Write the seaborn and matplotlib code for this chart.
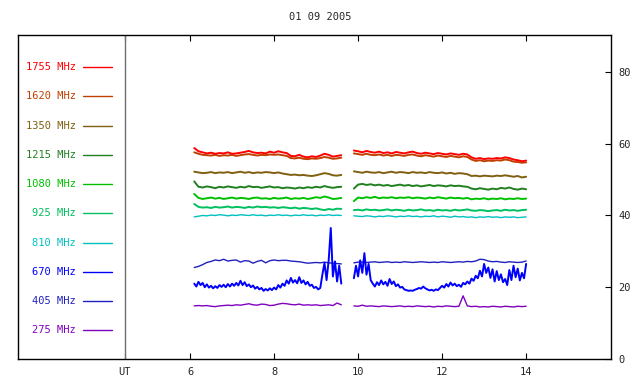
import numpy as np
import pandas as pd
import seaborn as sns
import matplotlib
matplotlib.use("Agg")
import matplotlib.pyplot as plt

title = "01 09 2005"
labels = ["1755 MHz", "1620 MHz", "1350 MHz", "1215 MHz", "1080 MHz",
          "925 MHz", "810 MHz", "670 MHz", "405 MHz", "275 MHz"]
colors = ["#ff0000", "#c04000", "#806010", "#208020", "#00c000",
          "#00c060", "#00c0c0", "#0000ff", "#2020c0", "#8000c0"]
xticks = [6, 8, 10, 12, 14]
yticks = [0, 20, 40, 60, 80]

# two observing segments (UT hours), 0.1 h samples; 670 MHz at 0.05 h
seg1 = (6.1, 9.6)
seg2 = (9.9, 14.0)

f1755_a = [58.8, 57.9, 57.6, 57.3, 57.5, 57.2, 57.4, 57.3, 57.6, 57.2, 57.3, 57.5, 57.7, 58.0, 57.6, 57.4, 57.5, 57.3,
           57.8, 57.5, 57.9, 57.6, 57.4, 56.6, 56.5, 56.9, 56.4, 56.2, 56.5, 56.3, 56.7, 57.2, 56.9, 56.4, 56.6, 56.8]
f1755_b = [58.1, 57.9, 57.6, 58.0, 57.7, 57.5, 57.8, 57.4, 57.6, 57.3, 57.7, 57.5, 57.3, 57.6, 57.8, 57.4, 57.2, 57.5,
           57.3, 57.1, 57.4, 57.2, 57.0, 57.3, 57.1, 56.9, 57.2, 57.0, 56.2, 55.8, 56.0, 55.7, 55.9, 55.8, 56.0, 55.9,
           56.2, 56.0, 55.6, 55.4, 55.1, 55.3]
f1620_a = [57.6, 57.2, 56.9, 56.8, 56.7, 56.9, 56.6, 56.8, 56.7, 56.9, 56.6, 56.8, 57.0, 57.1, 56.9, 56.7, 56.9, 56.8,
           57.0, 56.9, 57.0, 56.8, 56.6, 56.0, 55.9, 56.1, 55.8, 55.7, 55.9, 55.8, 56.0, 56.3, 56.1, 55.8, 55.9, 56.1]
f1620_b = [57.3, 57.1, 56.9, 57.2, 56.9, 56.8, 57.0, 56.7, 56.9, 56.6, 56.9, 56.8, 56.6, 56.9, 57.0, 56.7, 56.5, 56.8,
           56.6, 56.4, 56.7, 56.5, 56.3, 56.6, 56.4, 56.2, 56.5, 56.3, 55.6, 55.2, 55.4, 55.1, 55.3, 55.2, 55.4, 55.3,
           55.6, 55.4, 55.0, 54.9, 54.7, 54.8]
f1350_a = [52.2, 52.0, 51.8, 51.9, 52.1, 51.8, 52.0, 51.9, 52.1, 51.8, 52.0, 52.2, 51.9, 52.1, 51.8, 52.0, 51.9, 52.1,
           52.0, 51.8, 52.0, 51.7, 51.5, 51.3, 51.4, 51.2, 51.3, 51.1, 51.0, 51.2, 51.5, 51.8, 51.6, 51.2, 51.1, 51.3]
f1350_b = [52.3, 52.1, 51.9, 52.2, 52.0, 51.9, 52.1, 51.8, 52.0, 52.2, 51.9, 52.1, 52.0, 51.8, 52.1, 51.9, 52.0, 51.8,
           52.1, 51.9, 51.8, 52.0, 51.7, 51.9, 51.6, 51.8, 51.7, 51.5, 51.0, 51.1, 50.9, 51.1, 51.0, 50.9, 51.1, 51.0,
           51.2, 51.0, 50.8, 51.0, 50.6, 50.8]
f1215_a = [49.5, 48.0, 47.8, 48.1, 47.9, 47.6, 48.0, 47.8, 48.1, 47.9, 47.7, 48.0, 47.8, 48.2, 47.9, 48.0, 47.7, 47.9,
           48.1, 47.8, 47.9, 47.6, 47.8, 47.7, 47.5, 47.8, 47.6, 47.9, 47.7, 48.0, 47.8, 48.2, 47.9, 47.7, 47.9, 48.0]
f1215_b = [47.5, 48.6, 48.8, 48.5, 48.7, 48.4, 48.6, 48.3, 48.5, 48.2, 48.4, 48.6, 48.3, 48.5, 48.2, 48.4, 48.1, 48.3,
           48.5, 48.2, 48.4, 48.3, 48.1, 48.4, 48.2, 48.3, 48.1, 48.0, 47.5, 47.3, 47.6, 47.4, 47.2, 47.5, 47.3, 47.7,
           47.5, 47.8, 47.4, 47.2, 47.5, 47.3]
f1080_a = [46.0, 44.9, 44.6, 44.8, 45.0, 44.7, 44.9, 44.6, 44.8, 45.0, 44.7, 44.9, 44.8, 44.6, 44.9, 45.0, 44.7, 44.8,
           44.6, 44.9, 44.7, 44.8, 45.0, 44.6, 44.8, 44.7, 44.9, 44.6, 44.8, 45.1, 44.9, 45.3, 45.0, 44.6, 44.7, 44.9]
f1080_b = [44.0, 45.0, 44.8, 45.1, 44.9, 45.2, 44.8, 45.0, 44.9, 45.1, 44.8, 45.0, 44.9, 45.1, 44.8, 45.0, 44.9, 44.7,
           45.0, 44.8, 45.1, 44.9, 44.7, 45.0, 44.8, 44.9, 44.7, 44.9, 44.5, 44.7, 44.6, 44.8, 44.5, 44.7, 44.6, 44.8,
           44.5, 44.7, 44.6, 44.8, 44.6, 44.7]
f925_a = [43.2, 42.4, 42.2, 42.3, 42.1, 42.4, 42.2, 42.3, 42.5, 42.2, 42.4, 42.3, 42.1, 42.4, 42.2, 42.5, 42.3, 42.4,
          42.2, 42.3, 42.1, 42.3, 42.2, 42.0, 42.2, 41.9, 42.1, 42.0, 41.8, 42.0, 41.7, 41.5, 41.8, 41.6, 41.9, 41.8]
f925_b = [41.5, 41.6, 41.4, 41.7, 41.5, 41.6, 41.4, 41.5, 41.7, 41.4, 41.6, 41.5, 41.3, 41.6, 41.4, 41.5, 41.7, 41.4,
          41.5, 41.3, 41.6, 41.4, 41.5, 41.3, 41.6, 41.4, 41.5, 41.7, 41.4, 41.3, 41.5, 41.4, 41.2, 41.4, 41.5, 41.3,
          41.6, 41.4, 41.5, 41.3, 41.5, 41.6]
f810_a = [39.6, 39.8, 40.0, 39.9, 40.1, 40.0, 40.2, 40.1, 39.9, 40.1, 40.0, 40.2, 40.1, 40.0, 40.2, 40.0, 40.1, 39.9,
          40.1, 40.0, 40.2, 40.0, 40.1, 39.9, 40.1, 40.0, 40.2, 40.0, 40.1, 39.9, 40.1, 40.0, 40.2, 40.0, 40.1, 40.0]
f810_b = [39.9, 39.8, 39.7, 39.9, 39.8, 39.6, 39.8, 39.7, 39.9, 39.8, 39.6, 39.8, 39.7, 39.9, 39.7, 39.8, 39.6, 39.8,
          39.7, 39.9, 39.6, 39.8, 39.7, 39.5, 39.8, 39.6, 39.7, 39.5, 39.6, 39.4, 39.6, 39.5, 39.7, 39.5, 39.6, 39.4,
          39.6, 39.5, 39.6, 39.4, 39.5, 39.6]
f670_a = [21.0, 20.2, 21.5, 20.6, 21.2, 20.0, 20.8, 19.9, 20.4, 19.7, 20.3, 19.8, 20.6, 20.1, 20.7, 20.0, 20.9, 20.2,
          21.0, 20.4, 21.2, 20.5, 21.8, 20.6, 21.4, 20.3, 20.8, 20.0, 20.5, 19.6, 20.1, 19.4, 19.8, 19.0, 19.5, 19.1,
          19.7, 19.2, 19.9, 19.4, 20.6, 19.9, 21.0, 20.4, 21.9, 21.0, 22.6, 21.3, 22.0, 21.1, 22.8, 21.2, 21.9, 20.8,
          21.5, 20.4, 20.7, 19.8, 20.1, 19.4, 19.8, 23.5, 26.8, 22.0, 27.5, 36.5, 23.0, 27.2, 21.6, 26.0, 21.0]
f670_b = [22.5, 26.0, 23.0, 27.5, 24.0, 29.5, 23.5, 26.5, 22.0, 21.0, 20.2, 21.4, 20.6, 21.9, 20.8, 21.5, 20.4, 22.3,
          20.9, 21.6, 20.3, 20.8, 19.9, 20.1, 19.4, 19.2, 19.0, 19.1, 19.0, 19.3, 19.5, 19.8, 19.6, 20.2, 19.7, 19.4,
          19.1, 19.3, 19.0, 19.4, 19.2, 19.8, 20.4, 19.9, 20.9, 20.2, 21.3, 20.5, 21.0, 20.3, 20.7, 20.1, 21.2, 20.8,
          21.6, 21.0, 22.4, 21.8, 23.2, 22.5, 24.6, 23.0, 26.5, 24.0, 25.5, 22.6, 25.0, 21.6, 24.5, 22.0, 23.6, 21.4,
          22.3, 20.6, 24.8, 22.0, 26.0, 22.8, 25.2, 21.9, 24.0, 22.5, 26.5]
f405_a = [25.5, 25.8, 26.3, 26.9, 27.2, 27.6, 27.4, 27.8, 27.3, 27.5, 27.6, 27.0, 27.4, 27.3, 26.7, 27.2, 27.5, 26.8,
          27.4, 27.6, 27.4, 27.5, 27.5, 27.3, 27.2, 27.1, 26.9, 26.7, 26.8, 26.9, 26.8, 27.0, 26.8, 26.7, 26.6, 26.5]
f405_b = [26.8, 27.0, 27.0, 26.9, 27.0, 27.1, 26.9, 27.0, 27.1, 26.9, 27.0, 26.9, 27.1, 27.0, 26.9, 27.0, 27.1, 27.0,
          26.9, 27.0, 26.9, 27.1, 27.0, 26.9, 27.0, 27.1, 27.0, 27.2, 27.1, 27.3, 27.8, 27.7, 27.3, 27.1, 27.2, 27.0,
          26.9, 27.1, 27.0, 26.9, 27.0, 27.3]
f275_a = [14.8, 14.9, 14.8, 14.9, 14.7, 14.6, 14.8, 14.9, 15.0, 14.9, 15.1, 15.0, 15.2, 15.4, 15.1, 15.0, 15.3, 15.2,
          14.9, 15.0, 15.3, 15.5, 15.4, 15.2, 15.1, 15.3, 15.0, 15.1, 15.0, 15.1, 14.9, 15.0, 15.1, 14.9, 15.6, 15.1]
f275_b = [14.8, 14.7, 15.0, 14.7, 14.8, 14.7, 14.6, 14.8, 14.7, 14.6, 14.7, 14.8, 14.6, 14.7, 14.6, 14.8, 14.7, 14.6,
          14.7, 14.5, 14.7, 14.6, 14.8, 14.7, 14.6, 14.7, 17.6, 14.8, 14.6, 14.7, 14.5, 14.6, 14.5, 14.7, 14.6, 14.5,
          14.7, 14.6, 14.5, 14.7, 14.6, 14.7]

series = [(f1755_a, f1755_b), (f1620_a, f1620_b), (f1350_a, f1350_b), (f1215_a, f1215_b), (f1080_a, f1080_b),
          (f925_a, f925_b), (f810_a, f810_b), (f670_a, f670_b), (f405_a, f405_b), (f275_a, f275_b)]

rows = []
for lab, (a, b) in zip(labels, series):
    for seg, vals, (t0, t1) in [("a", a, seg1), ("b", b, seg2)]:
        for t, v in zip(np.linspace(t0, t1, len(vals)), vals):
            rows.append((lab, lab + seg, t, v))
df = pd.DataFrame(rows, columns=["band", "unit", "ut", "flux"])

sns.set_style("white")
plt.rcParams["font.family"] = ["DejaVu Sans Mono"]
plt.rcParams["font.size"] = 7.5

fig = plt.figure(figsize=(6.4, 3.84), dpi=100)
ax = fig.add_axes([18 / 640, 25 / 384, 593 / 640, 324 / 384])

# draw low frequencies first so the top traces sit above
order = labels[::-1]
for lab in order:
    col = colors[labels.index(lab)]
    lw = 1.0 if lab in ("405 MHz", "275 MHz", "810 MHz") else 1.4
    sub = df[df.band == lab]
    sns.lineplot(data=sub, x="ut", y="flux", units="unit", estimator=None, sort=False,
                 color=col, lw=lw, ax=ax, legend=False)

# legend column on the left
for i, (lab, col) in enumerate(zip(labels, colors)):
    yy = 81.3 - 8.14 * i
    ax.text(3.29, yy, lab, color=col, ha="right", va="center", fontsize=7.5)
    ax.plot([3.45, 4.14], [yy, yy], color=col, lw=1)

ax.axvline(4.45, color="#707070", lw=1)

ax.set_xlim(1.905, 16.02)
ax.set_ylim(0, 90.3)
ax.set_xticks([4.45] + xticks)
ax.set_xticklabels(["UT"] + [str(x) for x in xticks])
ax.yaxis.tick_right()
ax.set_yticks(yticks)
ax.tick_params(axis="x", direction="in", length=4, top=True, bottom=True, pad=6, color="black")
ax.tick_params(axis="y", direction="in", length=4, right=True, left=False, pad=5, color="black")
ax.set_xlabel("")
ax.set_ylabel("")
for s in ax.spines.values():
    s.set_visible(True)
    s.set_color("black")
    s.set_linewidth(1)
fig.text(0.5, 1 - 17 / 384, title, ha="center", va="center", fontsize=7.5)

fig.savefig("out.png", dpi=100)
